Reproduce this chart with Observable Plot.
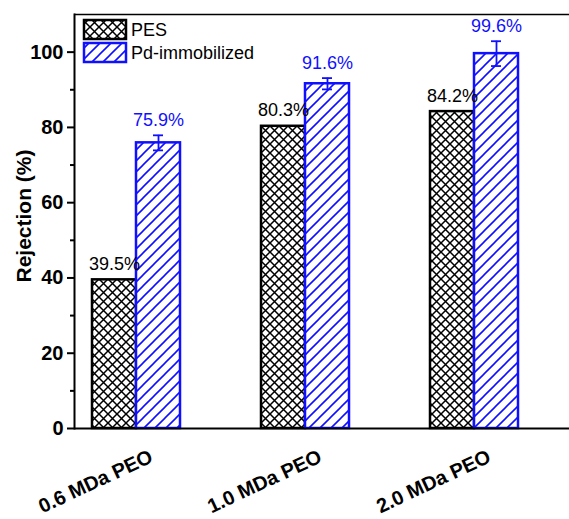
<!DOCTYPE html>
<html>
<head>
<meta charset="utf-8">
<script src="https://cdn.jsdelivr.net/npm/d3@7"></script>
<script src="https://cdn.jsdelivr.net/npm/@observablehq/plot@0.6"></script>
<style>
  body { margin: 0; background: #fff; }
  #chart svg { display: block; }
</style>
</head>
<body>
<div id="chart"></div>
<script>
// Rejection of PEO solutes by pristine and Pd-immobilized membranes
const groups = ["0.6 MDa PEO", "1.0 MDa PEO", "2.0 MDa PEO"];
const pesValues = [39.5, 80.3, 84.2];
const pdValues = [75.9, 91.6, 99.6];
const pdErrors = [2.0, 1.5, 3.3];
const seriesNames = ["PES", "Pd-immobilized"];
const majorTicks = [0, 20, 40, 60, 80, 100];
const minorTicks = [10, 30, 50, 70, 90];

const BLUE = "#1010ff";
const FONT = "Arial, 'Liberation Sans', Helvetica, sans-serif";

const pes = groups.map((g, i) => ({group: g, value: pesValues[i]}));
const pd = groups.map((g, i) => ({group: g, value: pdValues[i], err: pdErrors[i]}));

const half = 22; // half of the band: each series takes one side of its group
const pct = v => v.toFixed(1) + "%";

const chart = Plot.plot({
  width: 569,
  height: 519,
  marginTop: 14,
  marginBottom: 91,
  marginLeft: 74,
  marginRight: 0,
  style: {fontFamily: FONT, background: "#fff", color: "#000"},
  x: {domain: groups, range: [92, 518.6], paddingInner: 0.48, paddingOuter: 0, axis: null},
  y: {domain: [0, 110]},
  marks: [
    Plot.barY(pes, {x: "group", y: "value", insetRight: 2 * half,
      fill: "url(#xhatch)", stroke: "#000", strokeWidth: 2.5}),
    Plot.barY(pd, {x: "group", y: "value", insetLeft: 2 * half,
      fill: "url(#dhatch)", stroke: BLUE, strokeWidth: 2.5}),
    Plot.ruleX(pd, {x: "group", y1: d => d.value - d.err, y2: d => d.value + d.err,
      dx: half, stroke: BLUE, strokeWidth: 1.8}),
    Plot.tickY(pd, {x: "group", y: d => d.value + d.err, dx: half,
      insetLeft: 2 * half - 5, insetRight: 2 * half - 5, stroke: BLUE, strokeWidth: 1.8}),
    Plot.tickY(pd, {x: "group", y: d => d.value - d.err, dx: half,
      insetLeft: 2 * half - 5, insetRight: 2 * half - 5, stroke: BLUE, strokeWidth: 1.8}),
    Plot.text(pes, {x: "group", y: "value", text: d => pct(d.value), dx: -half, dy: -10,
      lineAnchor: "bottom", fontSize: 18, fill: "#000"}),
    Plot.text(pd, {x: "group", y: d => d.value + d.err, text: d => pct(d.value), dx: half, dy: -9,
      lineAnchor: "bottom", fontSize: 18, fill: BLUE}),
    Plot.ruleY([0], {stroke: "#000", strokeWidth: 2}),
    Plot.ruleY([110], {stroke: "#000", strokeWidth: 1.5}),
    Plot.frame({anchor: "left", stroke: "#000", strokeWidth: 2}),
    Plot.axisY({ticks: majorTicks, tickSize: 7, tickPadding: 4, fontSize: 20,
      fontWeight: "bold", strokeWidth: 2, label: null}),
    Plot.axisY({ticks: minorTicks, tickSize: 4, text: null, strokeWidth: 2, label: null}),
    // slanted category labels under each group
    Plot.text(groups, {x: d => d, frameAnchor: "bottom", text: d => d, rotate: -25,
      textAnchor: "end", lineAnchor: "middle", dx: 15, dy: 27,
      fontSize: 20, fontWeight: "bold", fill: "#000"})
  ]
});

const svg = d3.select(chart);
const defs = svg.insert("defs", ":first-child");

// cross-hatch fill for the PES bars
const xp = defs.append("pattern").attr("id", "xhatch")
  .attr("patternUnits", "userSpaceOnUse").attr("width", 9).attr("height", 9);
xp.append("rect").attr("width", 9).attr("height", 9).attr("fill", "#fff");
xp.append("path").attr("d", "M0,0L9,9M0,9L9,0")
  .attr("stroke", "#000").attr("stroke-width", 1.5).attr("fill", "none");

// diagonal hatch fill for the Pd-immobilized bars
const dp = defs.append("pattern").attr("id", "dhatch")
  .attr("patternUnits", "userSpaceOnUse").attr("width", 11).attr("height", 11);
dp.append("rect").attr("width", 11).attr("height", 11).attr("fill", "#fff");
dp.append("path").attr("d", "M0,11L11,0M-2,2L2,-2M9,13L13,9")
  .attr("stroke", BLUE).attr("stroke-width", 1.6).attr("fill", "none");

// y-axis title
svg.append("text")
  .attr("transform", "translate(25,216) rotate(-90)")
  .attr("text-anchor", "middle").attr("dominant-baseline", "middle")
  .attr("font-family", FONT).attr("font-size", 21).attr("font-weight", "bold")
  .attr("fill", "#000").text("Rejection (%)");

// legend in the upper-left corner of the plot area
const legend = svg.append("g").attr("font-family", FONT).attr("font-size", 18)
  .attr("text-anchor", "start");
const swatches = [{fill: "url(#xhatch)", stroke: "#000"}, {fill: "url(#dhatch)", stroke: BLUE}];
seriesNames.forEach((name, i) => {
  const y0 = 20 + i * 23;
  legend.append("rect").attr("x", 84).attr("y", y0).attr("width", 42).attr("height", 19)
    .attr("fill", swatches[i].fill).attr("stroke", swatches[i].stroke).attr("stroke-width", 2.5);
  legend.append("text").attr("x", 131).attr("y", y0 + 16).attr("fill", "#000").text(name);
});

document.getElementById("chart").appendChild(chart);
</script>
</body>
</html>
